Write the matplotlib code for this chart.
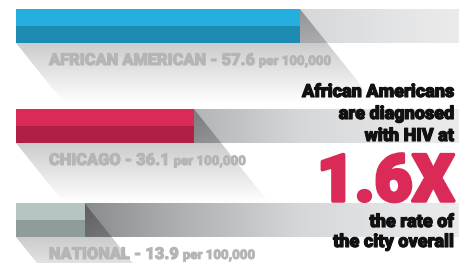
import numpy as np
import matplotlib.pyplot as plt
import matplotlib.patheffects as pe
from matplotlib.colors import LinearSegmentedColormap
from matplotlib.patches import Polygon

# data
groups = ['AFRICAN AMERICAN', 'CHICAGO', 'NATIONAL']
rates = [57.6, 36.1, 13.9]
unit = 'per 100,000'
top_colors = ['#23b0de', '#da2a57', '#b6c5c4']
low_colors = ['#1e8bb2', '#b01f44', '#8e9c9b']
headline = ['African Americans', 'are diagnosed', 'with HIV at']
ratio_label = '1.6X'
footline = ['the rate of', 'the city overall']

plt.rcParams['font.family'] = ['Roboto', 'DejaVu Sans']

W, H = 469, 263
fig = plt.figure(figsize=(W / 100, H / 100), dpi=100)
ax = fig.add_axes([0, 0, 1, 1])
ax.axis('off')

k = 284 / 57.6   # pixels per unit
x0 = 16


def u(p):
    return (p - x0) / k


def heavy(color, lw):
    return [pe.withStroke(linewidth=lw, foreground=color)]


track_cmap = LinearSegmentedColormap.from_list('track', [
    (0.0, '#66676a'), (0.138, '#88898c'), (0.339, '#a9abad'),
    (0.643, '#d6d7d9'), (0.869, '#e4e5e6'), (1.0, '#ebebec')])

track_end = u(458)
bar_h = 34
rows = [9, 109, 203]
slope = 0.8 / k
sh = 95

grad = np.linspace(0, 1, 400)[None, :]
fade = np.zeros((200, 1, 4))
fade[:, 0, 3] = 0.32 * (1 - np.linspace(0, 1, 200))

grey = '#b4b5b7'
for g, v, top, c1, c2 in zip(groups, rates, rows, top_colors, low_colors):
    ax.imshow(grad, cmap=track_cmap, extent=(0, track_end, top + bar_h, top),
              aspect='auto', interpolation='bilinear', zorder=1)
    im = ax.imshow(fade, extent=(0, v + slope * sh + 5, top, top + sh),
                   origin='lower', aspect='auto', interpolation='bilinear', zorder=2)
    poly = Polygon([(0, top + bar_h), (0, top), (v, top), (v + slope * sh, top + sh),
                    (slope * (sh - bar_h), top + sh)], closed=True, transform=ax.transData)
    im.set_clip_path(poly)
    ax.barh(top + bar_h * 0.25, v, height=bar_h / 2, color=c1, zorder=3)
    ax.barh(top + bar_h * 0.75, v, height=bar_h / 2, color=c2, zorder=3)
    t = ax.text(u(49), top + bar_h + 22, f'{g} - {v}', fontsize=11.8, fontweight=900,
                color=grey, va='baseline', ha='left', zorder=4,
                path_effects=heavy(grey, 0.7))
    ax.annotate(unit, xy=(1, 0), xycoords=t, xytext=(3, 0), textcoords='offset points',
                fontsize=9.5, fontweight=900, color=grey, va='bottom', ha='left', zorder=4,
                path_effects=heavy(grey, 0.5))

xr = u(454)
for line, yb in zip(headline, [97, 119, 141]):
    ax.text(xr, yb, line, fontsize=13, fontweight=900, color='#111111',
            ha='right', va='baseline', zorder=5, path_effects=heavy('#111111', 0.8))
ax.text(xr, 201, ratio_label, fontsize=47, fontweight=900, color='#da2a57',
        ha='right', va='baseline', zorder=5, path_effects=heavy('#da2a57', 2.5))
for line, yb in zip(footline, [227, 247]):
    ax.text(xr, yb, line, fontsize=13, fontweight=900, color='#111111',
            ha='right', va='baseline', zorder=5, path_effects=heavy('#111111', 0.8))

ax.set_xlim(-x0 / k, (W - x0) / k)
ax.set_ylim(H, 0)
fig.savefig('out.png', dpi=100)
